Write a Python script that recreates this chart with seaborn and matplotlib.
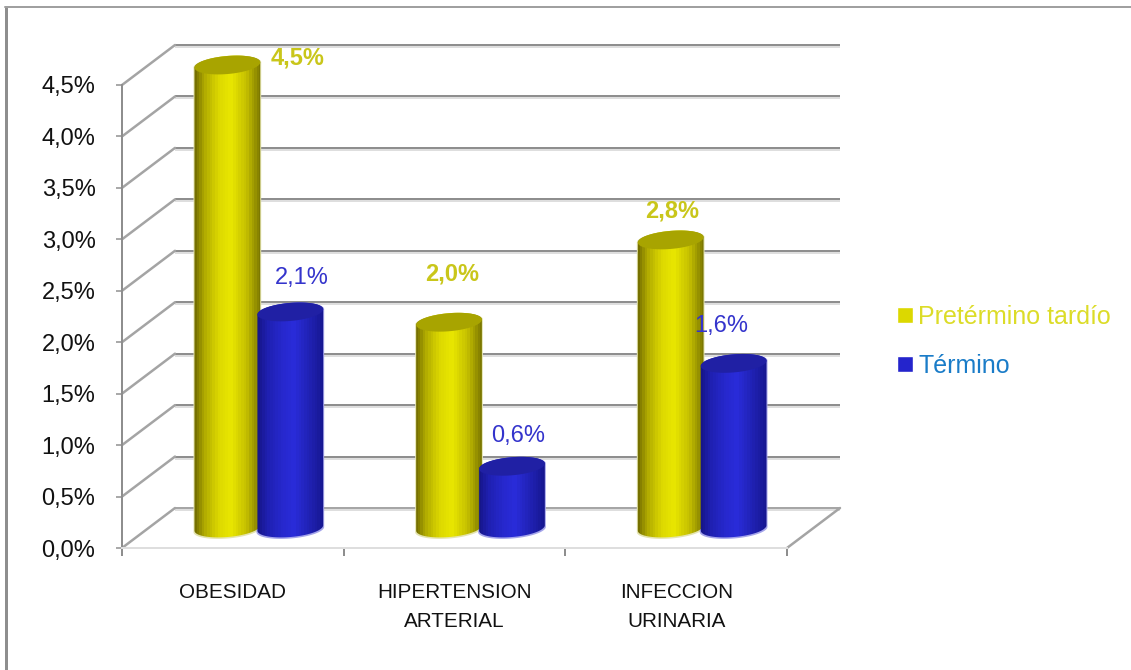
import numpy as np
import pandas as pd
import seaborn as sns
import matplotlib
matplotlib.use("Agg")
import matplotlib.pyplot as plt
from matplotlib import font_manager
from matplotlib.colors import LinearSegmentedColormap
from matplotlib.lines import Line2D
from matplotlib.patches import PathPatch
from matplotlib.path import Path
from matplotlib.ticker import FuncFormatter
from matplotlib.transforms import IdentityTransform

# Datos
categorias = ["OBESIDAD", "HIPERTENSION\nARTERIAL", "INFECCION\nURINARIA"]
pretermino = [4.5, 2.0, 2.8]
termino = [2.1, 0.6, 1.6]
series = ["Pretérmino tardío", "Término"]
marcas_y = [0.0, 0.5, 1.0, 1.5, 2.0, 2.5, 3.0, 3.5, 4.0, 4.5]

W, H, DPI = 1131, 670, 100

sns.set_theme(style="white")
plt.rcParams["font.family"] = ["Liberation Sans", "DejaVu Sans"]
disponibles = {f.name for f in font_manager.fontManager.ttflist}
ESTRECHA = "Liberation Sans Narrow" in disponibles

fig = plt.figure(figsize=(W / DPI, H / DPI), dpi=DPI, facecolor="white")
# plano frontal del gráfico, en píxeles de la figura
L, R, T, B = 122, 787, 85, 548
ax = fig.add_axes([L / W, 1 - B / H, (R - L) / W, (B - T) / H])
ax.set_facecolor("none")

df = pd.DataFrame({
    "categoria": categorias * 2,
    "serie": [series[0]] * 3 + [series[1]] * 3,
    "valor": pretermino + termino,
})
AMARILLO, AZUL = "#dcd800", "#2424cc"
sns.barplot(data=df, x="categoria", y="valor", hue="serie",
            palette=[AMARILLO, AZUL], saturation=1, width=0.568, ax=ax, zorder=3,
            legend=True, errorbar=None)

XLIM, YLIM = (-0.5, 2.5), (0, 4.5)
ax.set_xlim(*XLIM)
ax.set_ylim(*YLIM)

px_x = (R - L) / (XLIM[1] - XLIM[0])
px_y = (B - T) / (YLIM[1] - YLIM[0])
# profundidad de la caja 3D, en unidades de datos
FONDO_X, FONDO_Y = 53 / px_x, 40 / px_y

GRIS, GRIS_CLARO = "#8e8e8e", "#dedede"
lw2 = 2 * 72 / DPI

# paredes: líneas de fondo y diagonales laterales
for v in marcas_y:
    ax.plot([XLIM[0] + FONDO_X, XLIM[1] + FONDO_X],
            [v + FONDO_Y - 2 / px_y] * 2, color=GRIS_CLARO, lw=lw2,
            clip_on=False, zorder=1, solid_capstyle="butt")
    ax.plot([XLIM[0] + FONDO_X, XLIM[1] + FONDO_X],
            [v + FONDO_Y] * 2, color=GRIS if v else "#a6a6a6", lw=lw2,
            clip_on=False, zorder=1.1, solid_capstyle="butt")
    ax.plot([XLIM[0], XLIM[0] + FONDO_X], [v, v + FONDO_Y],
            color="#a4a4a4", lw=lw2 * 1.25, clip_on=False, zorder=1.2)
ax.plot([XLIM[1], XLIM[1] + FONDO_X], [0, FONDO_Y],
        color="#a4a4a4", lw=lw2 * 1.25, clip_on=False, zorder=1.2)

# degradados horizontales de los cilindros
grad_am = LinearSegmentedColormap.from_list("am", [
    (0, "#767000"), (0.14, "#b0aa00"), (0.35, "#dcd800"), (0.55, "#e9e700"),
    (0.78, "#c6c000"), (1, "#7c7800")])
grad_az = LinearSegmentedColormap.from_list("az", [
    (0, "#16168a"), (0.14, "#1f20b0"), (0.35, "#2628cc"), (0.55, "#2a2cda"),
    (0.78, "#2022b4"), (1, "#161690")])
estilos = [
    (grad_am, "#a8a400", "#e4e4b0"),
    (grad_az, "#2020a4", "#a4a4ea"),
]

SEMI_X, SEMI_Y, GIRO = 33, 9, np.deg2rad(5)


def elipse(cx, cy, t):
    """Puntos de una elipse inclinada en píxeles de pantalla."""
    x = SEMI_X * np.cos(t)
    y = SEMI_Y * np.sin(t)
    return np.column_stack([cx + x * np.cos(GIRO) - y * np.sin(GIRO),
                            cy + x * np.sin(GIRO) + y * np.cos(GIRO)])


fig.canvas.draw()
mitad = np.linspace(0, np.pi, 60)
pantalla = IdentityTransform()
for contenedor, (cmap, tapa, halo) in zip(ax.containers, estilos):
    for barra in contenedor:
        centro = barra.get_x() + barra.get_width() / 2 + FONDO_X / 2 - 0.5 / px_x
        valor = barra.get_height()
        base = ax.transData.transform((centro, FONDO_Y / 2))
        cima = ax.transData.transform((centro, valor + FONDO_Y / 2))
        cuerpo = np.vstack([elipse(*base, mitad + np.pi), elipse(*cima, mitad)])
        contorno = Path(np.vstack([cuerpo, cuerpo[:1]]), closed=True)

        # silueta clara que asoma por los bordes del cilindro
        borde = np.vstack([elipse(base[0], base[1] - 1.5, mitad + np.pi),
                           elipse(*cima, mitad)])
        borde[:, 0] = base[0] + (borde[:, 0] - base[0]) * 1.03
        ax.add_patch(PathPatch(Path(np.vstack([borde, borde[:1]]), closed=True),
                               transform=pantalla, fc=halo, ec="none",
                               zorder=2.9, clip_on=False))

        barra.set_x(centro - barra.get_width() / 2)
        barra.set_y(FONDO_Y / 2)
        barra.set_clip_box(fig.bbox)
        barra.set_clip_path(contorno, pantalla)

        ancho = SEMI_X / px_x
        im = ax.imshow(np.linspace(0, 1, 26)[None, :], cmap=cmap, vmin=0, vmax=1,
                       extent=(centro - ancho * 1.02, centro + ancho * 1.02,
                               0, valor + FONDO_Y),
                       aspect="auto", interpolation="nearest", zorder=3.5)
        im.set_clip_box(fig.bbox)
        im.set_clip_path(contorno, pantalla)

        ax.add_patch(PathPatch(Path(elipse(*cima, np.linspace(0, 2 * np.pi, 120)),
                                    closed=True),
                               transform=pantalla, fc=tapa, ec="none", zorder=3.6,
                               clip_on=False))

ax.set_xlim(*XLIM)
ax.set_ylim(*YLIM)

# rótulos de valor
COLOR_ET = ["#c9c61a", "#3434cc"]
PESO_ET = ["bold", "normal"]
DESPLAZA = [[(70, 8), (3, 50), (1, 30)], [(12, 35), (6, 32), (-12, 39)]]
for i, (contenedor, valores) in enumerate(zip(ax.containers, [pretermino, termino])):
    for barra, valor, (dx, dy) in zip(contenedor, valores, DESPLAZA[i]):
        ax.annotate(f"{valor:.1f}%".replace(".", ","),
                    (barra.get_x() + barra.get_width() / 2, valor + FONDO_Y / 2),
                    xytext=(dx * 72 / DPI, (dy - 1.5) * 72 / DPI),
                    textcoords="offset points",
                    ha="center", va="center", fontsize=17,
                    color=COLOR_ET[i], fontweight=PESO_ET[i],
                    annotation_clip=False, zorder=6)

# ejes
ax.set_xlabel("")
ax.set_ylabel("")
for lado in ("top", "right"):
    ax.spines[lado].set_visible(False)
ax.spines["left"].set_color(GRIS)
ax.spines["left"].set_linewidth(lw2)
ax.spines["bottom"].set_color(GRIS_CLARO)
ax.spines["bottom"].set_linewidth(lw2)
ax.set_yticks(marcas_y)
ax.yaxis.set_major_formatter(FuncFormatter(lambda v, _: f"{v:.1f}%".replace(".", ",")))
ax.tick_params(axis="y", which="major", left=True, length=6 * 72 / DPI, width=lw2 * 0.75,
               color=GRIS, labelsize=17, labelcolor="#111111", pad=20.5 * 72 / DPI)
ax.set_xticks([0, 1, 2], categorias)
ax.set_xticks([-0.5, 0.5, 1.5, 2.5], minor=True)
ax.tick_params(axis="x", which="major", bottom=False, length=0,
               labelsize=18 if ESTRECHA else 14.9,
               labelcolor="#111111", pad=25)
ax.tick_params(axis="x", which="minor", bottom=True, length=8 * 72 / DPI, width=lw2,
               color=GRIS)
for et in ax.get_xticklabels():
    et.set_linespacing(1.35 if ESTRECHA else 1.68)
    if ESTRECHA:
        et.set_family(["Liberation Sans Narrow", "Liberation Sans"])

# leyenda
manejadores, nombres = ax.get_legend_handles_labels()
ax.legend(manejadores, nombres, loc="center left",
          bbox_to_anchor=(897 / W, 1 - 341.5 / H), bbox_transform=fig.transFigure,
          frameon=False, fontsize=18, labelcolor=["#dcdc28", "#1a7cc8"],
          handlelength=0.62, handleheight=0.62, handletextpad=0.24,
          labelspacing=1.0, borderpad=0, borderaxespad=0)

# marco exterior: solo quedan los lados izquierdo y superior
fig.add_artist(Line2D([6 / W, 6 / W], [0, 1 - 7 / H], color=GRIS, lw=3 * 72 / DPI))
fig.add_artist(Line2D([5 / W, 1], [1 - 7 / H, 1 - 7 / H], color="#a0a0a0", lw=lw2))

fig.savefig("out.png", dpi=DPI, facecolor="white")
